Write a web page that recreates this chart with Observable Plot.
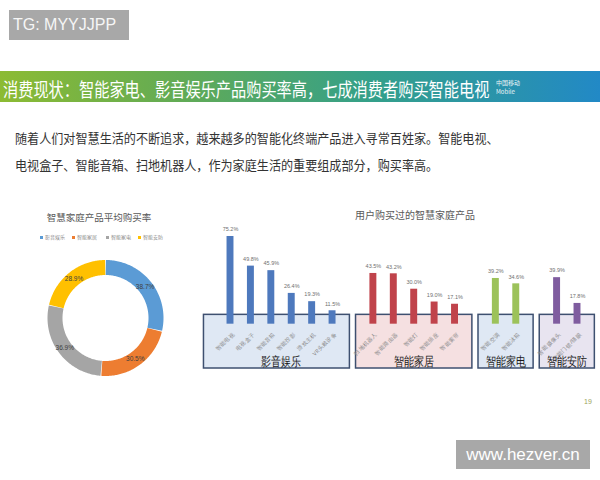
<!DOCTYPE html>
<html>
<head>
<meta charset="utf-8">
<script src="https://cdn.jsdelivr.net/npm/d3@7"></script>
<script src="https://cdn.jsdelivr.net/npm/@observablehq/plot@0.6"></script>
<style>
  body { margin: 0; background: #fff; }
  #page { position: relative; width: 600px; height: 480px; overflow: hidden; background: #fff;
          font-family: "Noto Sans CJK SC", "Noto Sans", sans-serif; }
  .abs { position: absolute; }
  #tg { left: 9px; top: 10px; width: 120px; height: 30px; background: #a8a8a8; color: #f6f6f6;
        font-family: "Liberation Sans", Arial, sans-serif; font-size: 16px; line-height: 30px; box-sizing: border-box; padding-left: 4px; }
  #band { left: 0; top: 71px; width: 600px; height: 31px;
          background: linear-gradient(90deg, #8cbb33 0%, #62ab55 30%, #34a08a 62%, #2289c6 100%); }
  #headline { left: 3px; top: 79px; color: #fff; font-size: 19px; line-height: 20px; white-space: nowrap;
              transform: scaleX(0.80); transform-origin: 0 0; }
  #logo { left: 496px; top: 78px; color: #fff; font-size: 6px; line-height: 9px; opacity: 0.9; }
  #body { left: 15px; top: 124px; color: #333; font-size: 13px; line-height: 27px; white-space: nowrap;
          transform: scaleX(0.93); transform-origin: 0 0; }
  #donutTitle { left: 20px; width: 158px; top: 210px; text-align: center; color: #595959; font-size: 9.5px; }
  #barTitle { left: 330px; width: 170px; top: 207px; text-align: center; color: #595959; font-size: 10px; }
  .leg { top: 233px; font-size: 5px; color: #8a8a8a; line-height: 7px; white-space: nowrap; }
  .leg i { display: inline-block; width: 3px; height: 3px; margin-right: 2px; vertical-align: middle; }
  #pageNo { left: 584px; top: 398px; color: #9ca35a; font-size: 7px; font-family: "Liberation Sans", sans-serif; }
  #site { left: 456px; top: 440px; width: 134px; height: 29px; background: #a8a8a8; color: #fff;
          font-family: "Liberation Sans", Arial, sans-serif; font-size: 17px; line-height: 29px; text-align: center; }
  #donut, #bars { position: absolute; }
  #donut { left: 40px; top: 252px; }
  #bars { left: 195px; top: 220px; }
</style>
</head>
<body>
<div id="page">
  <div id="tg" class="abs">TG: MYYJJPP</div>
  <div id="band" class="abs"></div>
  <div id="headline" class="abs">消费现状：智能家电、影音娱乐产品购买率高，七成消费者购买智能电视</div>
  <div id="logo" class="abs">中国移动<br>Mobile</div>
  <div id="body" class="abs">随着人们对智慧生活的不断追求，越来越多的智能化终端产品进入寻常百姓家。智能电视、<br>电视盒子、智能音箱、扫地机器人，作为家庭生活的重要组成部分，购买率高。</div>
  <div id="donutTitle" class="abs">智慧家庭产品平均购买率</div>
  <div id="barTitle" class="abs">用户购买过的智慧家庭产品</div>
  <div id="legend"></div>
  <div id="donut"></div>
  <div id="bars"></div>
  <div id="pageNo" class="abs">19</div>
  <div id="site" class="abs">www.hezver.cn</div>
</div>
<script>
// ---------- data ----------
const groups = ["影音娱乐", "智能家居", "智能家电", "智能安防"];
const groupAvgRates = [38.7, 30.5, 36.9, 28.9];
const donutColors = ["#5b9bd5", "#ed7d31", "#a5a5a5", "#ffc000"];

const products = ["智能电视", "电视盒子", "智能音箱", "智能投影", "游戏主机", "VR头戴设备",
                  "扫地机器人", "智能路由器", "智能灯", "智能插座", "智能窗帘",
                  "智能空调", "智能冰箱",
                  "智能摄像头", "智能门锁/猫眼"];
const productRates = [75.2, 49.8, 45.9, 26.4, 19.3, 11.5,
                      43.5, 43.2, 30.0, 19.0, 17.1,
                      39.2, 34.6,
                      39.9, 17.8];
const productGroups = ["影音娱乐", "影音娱乐", "影音娱乐", "影音娱乐", "影音娱乐", "影音娱乐",
                       "智能家居", "智能家居", "智能家居", "智能家居", "智能家居",
                       "智能家电", "智能家电",
                       "智能安防", "智能安防"];
const barColors = ["#4e79bd", "#c0434b", "#9cc25a", "#7f5c9f"];
const boxFills = ["#dfe8f4", "#f5e0e1", "#dfe8f4", "#e8e4f0"];

// ---------- legend ----------
const legX = [40, 72, 106, 138];
const legend = document.getElementById("legend");
groups.forEach((g, i) => {
  const d = document.createElement("div");
  d.className = "abs leg";
  d.style.left = legX[i] + "px";
  d.innerHTML = `<i style="background:${donutColors[i]}"></i>${g}`;
  legend.appendChild(d);
});

// ---------- donut ----------
const total = d3.sum(groupAvgRates);
let acc = 0;
const arcs = groups.map((g, i) => {
  const a0 = acc / total * 2 * Math.PI;
  acc += groupAvgRates[i];
  const a1 = acc / total * 2 * Math.PI;
  return {group: g, value: groupAvgRates[i], a0, a1, mid: (a0 + a1) / 2};
});
const gap = 0.006;
const arcPts = arcs.flatMap(a => d3.range(0, 91).map(k => {
  const t = a.a0 + gap + (a.a1 - a.a0 - 2 * gap) * k / 90;
  return {group: a.group, x: Math.sin(t), y: Math.cos(t)};
}));

const donut = Plot.plot({
  width: 130, height: 131,
  margin: 0,
  x: {domain: [-1, 1], range: [14.5, 115.5], axis: null},
  y: {domain: [-1, 1], range: [116, 15], axis: null},
  color: {domain: groups, range: donutColors},
  style: {background: "transparent", overflow: "visible"},
  marks: [
    Plot.line(arcPts, {x: "x", y: "y", z: "group", stroke: "group", strokeWidth: 15, strokeLinecap: "butt", strokeLinejoin: "round"}),
    Plot.text(arcs, {x: a => Math.sin(a.mid), y: a => Math.cos(a.mid), text: a => a.value.toFixed(1) + "%",
                     fontSize: 6.5, fill: "#404040", fontFamily: "Liberation Sans, sans-serif"})
  ]
});
document.getElementById("donut").appendChild(donut);

// ---------- bars ----------
const rows = products.map((p, i) => {
  const gi = groups.indexOf(productGroups[i]);
  return {product: p, rate: productRates[i], group: productGroups[i], slot: i + gi};
});
const boxTop = 8, boxBottom = -38, boxPad = 0.85;
const boxes = groups.map((g, gi) => {
  const s = rows.filter(r => r.group === g).map(r => r.slot);
  return {group: g, x1: d3.min(s) - boxPad - (gi === 0 ? 0.45 : 0), x2: d3.max(s) + boxPad, fill: boxFills[gi]};
});

const bars = Plot.plot({
  width: 405, height: 155,
  margin: 0,
  x: {type: "linear", domain: [0, 17], range: [35, 382], axis: null},
  y: {domain: [-38, 80], range: [148, 10.4], axis: null},
  color: {domain: groups, range: barColors},
  style: {background: "transparent", overflow: "visible"},
  marks: [
    ...boxes.map(b => Plot.rect([b], {x1: "x1", x2: "x2", y1: boxBottom, y2: boxTop,
                                       fill: b.fill, stroke: "#3e5070", strokeWidth: 1.5})),
    Plot.rectY(rows, {x1: d => d.slot - 0.17, x2: d => d.slot + 0.17, y: "rate", fill: "group"}),
    Plot.text(rows, {x: "slot", y: "rate", text: d => d.rate.toFixed(1) + "%", dy: -7,
                     fontSize: 5.5, fill: "#707070", fontFamily: "Liberation Sans, sans-serif"}),
    Plot.text(rows, {x: "slot", y: 0, text: "product", rotate: -45, textAnchor: "end",
                     dx: 3, dy: 9, fontSize: 5.5, fill: "#8a8a8a"}),
    Plot.text(boxes, {x: b => (b.x1 + b.x2) / 2 + (b.group === groups[0] ? 0.22 : 0), y: boxBottom, text: "group", lineAnchor: "bottom",
                      dy: -3, fontSize: 13, fill: "#1a1a1a", fontWeight: 500})
  ]
});
// condense group labels horizontally like the reference
const textGroups = bars.querySelectorAll('g[aria-label="text"]');
textGroups[textGroups.length - 1].querySelectorAll("text").forEach(t => {
  t.setAttribute("textLength", 40);
  t.setAttribute("lengthAdjust", "spacingAndGlyphs");
});
document.getElementById("bars").appendChild(bars);
</script>
</body>
</html>
